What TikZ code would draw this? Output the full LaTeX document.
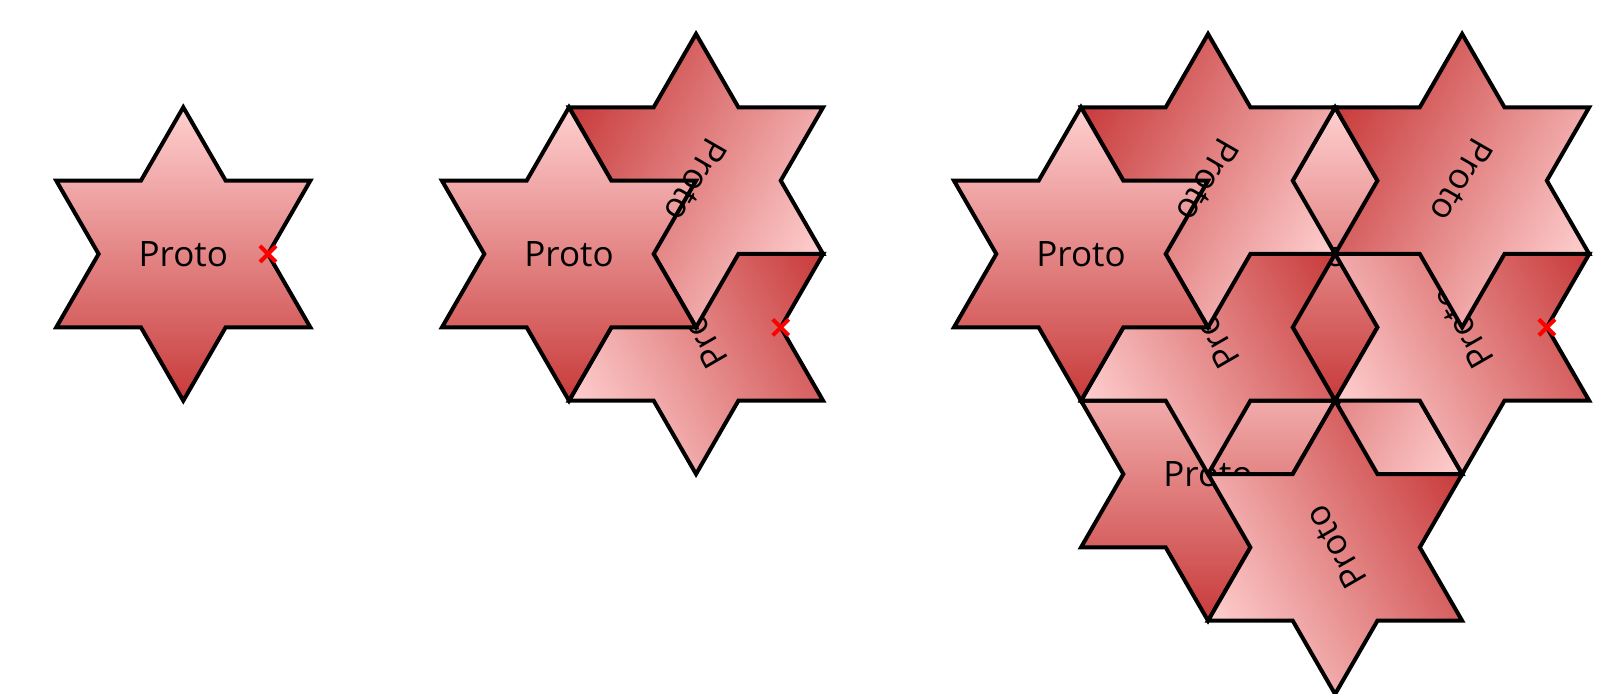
\documentclass[tikz,border=0pt]{standalone}
\usepackage{fontspec}
\setmainfont{Open Sans}
\usetikzlibrary{calc}
\definecolor{topc}{RGB}{255,208,208}
\definecolor{botc}{RGB}{200,58,58}
\tikzset{
  starbody/.style={top color=topc, bottom color=botc, draw=black, line width=2pt, line join=miter},
  lab/.style={font=\fontsize{17.5}{20}\selectfont, inner sep=0pt, text=black},
  xmark/.style={draw=red, line width=2pt}
}
\newcommand\Rr{146.7}
\newcommand\ri{84.7}
\newcommand\hexstar[3]{%
  \begin{scope}[transform canvas={rotate around={#3:(#1,#2)}}, shift={(#1,#2)}]
    \path[starbody] (90:\Rr) -- (60:\ri) -- (30:\Rr) -- (0:\ri) -- (-30:\Rr) -- (-60:\ri) -- (-90:\Rr) -- (-120:\ri) -- (-150:\Rr) -- (180:\ri) -- (150:\Rr) -- (120:\ri) -- cycle;
  \end{scope}}
\newcommand\hexlabel[4]{%
  \begin{scope}[transform canvas={rotate around={#3:(#1,#2)}}]
    \node[lab] (#4) at (#1,#2) {Proto};
  \end{scope}}
\newcommand\redx[3]{%
  \coordinate (#3) at (#1,#2);
  \draw[xmark] ($(#3)+(-8,-8)$) -- ($(#3)+(8,8)$);
  \draw[xmark] ($(#3)+(-8,8)$) -- ($(#3)+(8,-8)$);}
\begin{document}
\begin{tikzpicture}[x=0.5pt,y=0.5pt]
\useasboundingbox (0,0) rectangle (1606,694);
% group 1
\hexstar{183.3}{440}{0}
\hexlabel{183.3}{440}{0}{l1}
\redx{268}{440}{x1}
% group 2
\hexstar{696.04}{366.65}{120}
\hexlabel{696.04}{366.65}{120}{l2d}
\hexstar{696.04}{513.35}{240}
\hexstar{569}{440}{0}
\hexlabel{696.04}{513.35}{240}{l2b}
\hexlabel{569}{440}{0}{l2a}
\redx{780.74}{366.65}{x2}
% group 3
\hexstar{1335.08}{293.3}{240}
\hexlabel{1335.08}{293.3}{240}{l3h1}
\hexstar{1208.04}{219.95}{0}
\hexlabel{1208.04}{219.95}{0}{l3f}
\hexstar{1335.08}{146.6}{120}
\hexlabel{1335.08}{146.6}{120}{l3g}
\hexstar{1335.08}{440}{0}
\hexlabel{1335.08}{440}{0}{l3h2}
\hexstar{1462.13}{366.65}{120}
\hexlabel{1462.13}{366.65}{120}{l3e}
\hexstar{1462.13}{513.35}{240}
\hexlabel{1462.13}{513.35}{240}{l3c}
\hexstar{1208.04}{366.65}{120}
\hexlabel{1208.04}{366.65}{120}{l3d}
\hexstar{1208.04}{513.35}{240}
\hexstar{1081}{440}{0}
\hexlabel{1208.04}{513.35}{240}{l3b}
\hexlabel{1081}{440}{0}{l3a}
\redx{1546.83}{366.65}{x3}
\end{tikzpicture}
\end{document}
